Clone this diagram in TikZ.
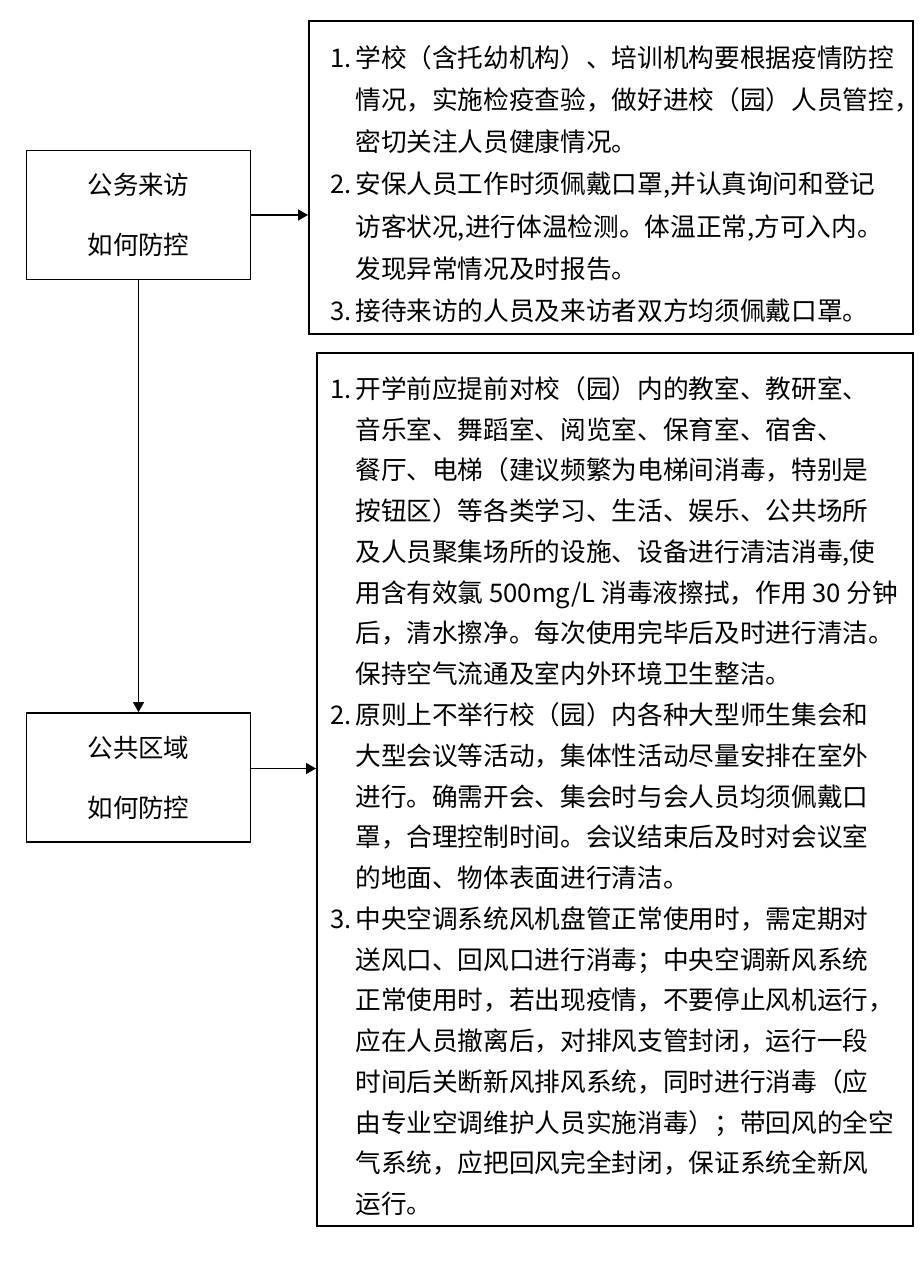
\documentclass[tikz,border=0pt]{standalone}
\usepackage{fontspec}
\newfontfamily\cjk{Noto Sans CJK SC}
\usetikzlibrary{arrows.meta}
\newcommand\numbox[1]{\makebox[5mm][l]{#1}}
\newcommand\contline{\hspace*{5mm}}

\begin{document}
\begin{tikzpicture}[
    >={Triangle[length=2mm,width=2.2mm]},
    topicbox/.style={draw, line width=1pt, minimum width=4.48cm,
      minimum height=2.58cm, align=center,
      font=\cjk\fontsize{14.5pt}{34pt}\selectfont},
    infobox/.style={draw, line width=1pt, anchor=north west, inner sep=0pt},
    infotext/.style={anchor=north west, inner sep=0pt, align=left,
      font=\cjk\fontsize{14.6pt}{#1}\selectfont},
    infotext/.default=23.2pt,
    flowarrow/.style={->, line width=0.8pt}
]

\useasboundingbox (0,0) rectangle (18.44,-25.28);

% Caixes de l'esquerra
\node[topicbox] (visitbox) at (2.77,-4.3) {公务来访\\如何防控};
\node[topicbox] (areabox) at (2.77,-15.55) {公共区域\\如何防控};

% Caixa de dalt
\node[infobox, minimum width=12.08cm, minimum height=6.26cm]
    (visitinfo) at (6.16,-0.4) {};
\node[infotext=24pt] (visittext) at (6.6,-0.9) {%
\numbox{1.}学校（含托幼机构）、培训机构要根据疫情防控\\
\contline 情况，实施检疫查验，做好进校（园）人员管控，\\
\contline 密切关注人员健康情况。\\
\numbox{2.}安保人员工作时须佩戴口罩,并认真询问和登记\\
\contline 访客状况,进行体温检测。体温正常,方可入内。\\
\contline 发现异常情况及时报告。\\
\numbox{3.}接待来访的人员及来访者双方均须佩戴口罩。};

% Caixa de baix
\node[infobox, minimum width=11.92cm, minimum height=17.46cm]
    (areainfo) at (6.32,-7.04) {};
\node[infotext] (areatext) at (6.6,-7.52) {%
\numbox{1.}开学前应提前对校（园）内的教室、教研室、\\
\contline 音乐室、舞蹈室、阅览室、保育室、宿舍、\\
\contline 餐厅、电梯（建议频繁为电梯间消毒，特别是\\
\contline 按钮区）等各类学习、生活、娱乐、公共场所\\
\contline 及人员聚集场所的设施、设备进行清洁消毒,使\\
\contline 用含有效氯 500mg/L 消毒液擦拭，作用 30 分钟\\
\contline 后，清水擦净。每次使用完毕后及时进行清洁。\\
\contline 保持空气流通及室内外环境卫生整洁。\\
\numbox{2.}原则上不举行校（园）内各种大型师生集会和\\
\contline 大型会议等活动，集体性活动尽量安排在室外\\
\contline 进行。确需开会、集会时与会人员均须佩戴口\\
\contline 罩，合理控制时间。会议结束后及时对会议室\\
\contline 的地面、物体表面进行清洁。\\
\numbox{3.}中央空调系统风机盘管正常使用时，需定期对\\
\contline 送风口、回风口进行消毒；中央空调新风系统\\
\contline 正常使用时，若出现疫情，不要停止风机运行，\\
\contline 应在人员撤离后，对排风支管封闭，运行一段\\
\contline 时间后关断新风排风系统，同时进行消毒（应\\
\contline 由专业空调维护人员实施消毒）；带回风的全空\\
\contline 气系统，应把回风完全封闭，保证系统全新风\\
\contline 运行。};

% Fletxes
\draw[flowarrow] (visitbox.east) -- (visitbox.east -| visitinfo.west);
\draw[flowarrow] ([yshift=1.8mm]areabox.east)
    -- ([yshift=1.8mm]areabox.east -| areainfo.west);
\draw[flowarrow] (visitbox) -- (areabox);

\end{tikzpicture}
\end{document}
